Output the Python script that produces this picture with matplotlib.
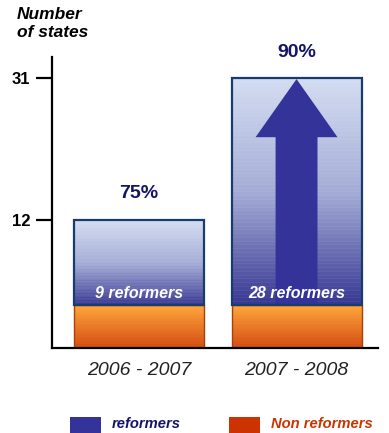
import numpy as np
import matplotlib.pyplot as plt
from matplotlib.colors import LinearSegmentedColormap
from matplotlib.patches import Rectangle

periods = ['2006 - 2007', '2007 - 2008']
reformers = [9, 28]
non_reformers = [3, 3]
totals = [r + n for r, n in zip(reformers, non_reformers)]
shares = ['75%', '90%']
y_ticks = [12, 31]
series = ['reformers', 'Non reformers']

plt.rcParams['font.family'] = ['Liberation Sans', 'DejaVu Sans']

# the original y axis is not linear, a power scale gets close to it
P = 0.786
def fwd(v):
    return np.power(np.clip(v, 0, None), P)
def inv(v):
    return np.power(np.clip(v, 0, None), 1 / P)

fig = plt.figure(figsize=(3.89, 4.33), dpi=100)
ax = fig.add_axes([0.1337, 0.1963, 0.838, 0.672])
ax.set_yscale('function', functions=(fwd, inv))
ax.set_ylim(0, 34.1)
ax.set_xlim(-0.552, 1.517)

blues = LinearSegmentedColormap.from_list('b', ['#363692', '#a4acd6', '#d3dcf1'])
oranges = LinearSegmentedColormap.from_list('o', ['#d2450a', '#ffa335'])
x = np.arange(len(periods))
w = 0.825

def gradient_bar(xc, lo, hi, cmap, n=60):
    edges = inv(np.linspace(fwd(lo), fwd(hi), n + 1))
    for i in range(n):
        c = cmap((i + 0.5) / n)
        ax.bar(xc, edges[i + 1] - edges[i], w, bottom=edges[i], color=c,
               edgecolor=c, linewidth=0.4, zorder=2)

for i in range(len(periods)):
    gradient_bar(x[i], 0, non_reformers[i], oranges)
    gradient_bar(x[i], non_reformers[i], totals[i], blues)

ax.bar(x, non_reformers, w, fill=False, edgecolor='#a8400c', linewidth=1, zorder=3)
ax.bar(x, reformers, w, bottom=non_reformers, fill=False, edgecolor='#173c6e',
       linewidth=1.6, zorder=3)

# growth arrow inside the last bar
xc = x[-1]
tip = totals[-1] * 0.995
base = totals[-1] * 0.73
low = non_reformers[-1]
ax.fill([xc - 0.133, xc - 0.133, xc - 0.26, xc, xc + 0.26, xc + 0.133, xc + 0.133],
        [low, base, base, tip, base, base, low], color='#33339a', linewidth=0, zorder=2.5)

for i in range(len(periods)):
    ax.annotate(shares[i], (x[i], totals[i]), xytext=(0, 18.7), textcoords='offset points',
                ha='center', va='center', fontsize=14, fontweight='bold', color='#14146a')
    ax.annotate(f'{reformers[i]} reformers', (x[i], non_reformers[i]), xytext=(0, 2.5),
                textcoords='offset points', ha='center', va='bottom', fontsize=11.5,
                fontweight='bold', style='italic', color='white', zorder=5)

for s in ['top', 'right']:
    ax.spines[s].set_visible(False)
for s in ['left', 'bottom']:
    ax.spines[s].set_linewidth(1.6)
    ax.spines[s].set_zorder(4)

ax.minorticks_off()
ax.set_yticks(y_ticks)
ax.set_yticklabels([str(t) for t in y_ticks], fontweight='bold')
ax.tick_params(axis='y', length=11.5, width=1.6, pad=4, labelsize=12)
ax.set_xticks(x)
ax.set_xticklabels(periods, fontsize=14, style='italic', color='#222222')
ax.tick_params(axis='x', length=0, pad=10)

fig.text(17 / 389, 1 - 7 / 433, 'Number\nof states', ha='left', va='top', fontsize=12.5,
         fontweight='bold', style='italic', linespacing=1.25)

# legend drawn by hand along the bottom edge
leg_cols = ['#333399', '#cc3300']
leg_text = ['#14146a', '#cc3300']
leg_x = [70 / 389, 229 / 389]
for lx, c, tc, name in zip(leg_x, leg_cols, leg_text, series):
    fig.patches.append(Rectangle((lx, 0.0), 0.0797, 0.037, transform=fig.transFigure,
                                 facecolor=c, edgecolor='none'))
    fig.text(lx + 42 / 389, 0.021, name, ha='left', va='center', fontsize=10.6,
             fontweight='bold', style='italic', color=tc)

fig.savefig('out.png', dpi=100)
